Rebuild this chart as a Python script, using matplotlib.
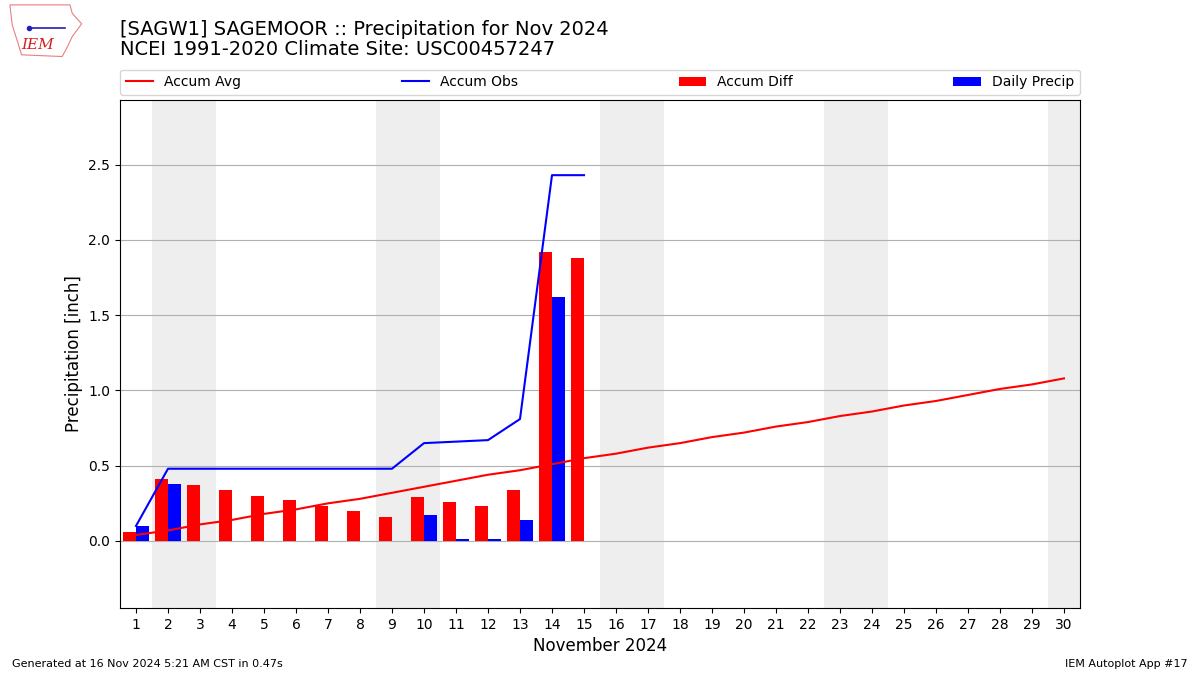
"""
Monthly precipitation plot for SAGW1 (Nov 2024)
"""

import numpy as np
import matplotlib
matplotlib.use('Agg')
import matplotlib.pyplot as plt
from matplotlib.patches import Polygon

days = np.arange(1, 31)
obs_days = np.arange(1, 16)

daily_precip = [0.10, 0.38, 0.0, 0.0, 0.0, 0.0, 0.0, 0.0, 0.0, 0.17, 0.01, 0.01, 0.14, 1.62, 0.0]
accum_obs = [0.10, 0.48, 0.48, 0.48, 0.48, 0.48, 0.48, 0.48, 0.48, 0.65, 0.66, 0.67, 0.81, 2.43, 2.43]
accum_avg = [0.04, 0.07, 0.11, 0.14, 0.18, 0.21, 0.25, 0.28, 0.32, 0.36, 0.40, 0.44, 0.47, 0.51, 0.55,
             0.58, 0.62, 0.65, 0.69, 0.72, 0.76, 0.79, 0.83, 0.86, 0.90, 0.93, 0.97, 1.01, 1.04, 1.08]
accum_diff = [0.06, 0.41, 0.37, 0.34, 0.30, 0.27, 0.23, 0.20, 0.16, 0.29, 0.26, 0.23, 0.34, 1.92, 1.88]
weekends = [2, 3, 9, 10, 16, 17, 23, 24, 30]

fig = plt.figure(figsize=(12, 6.75), dpi=100)
ax = fig.add_axes([0.1, 0.0993, 0.8, 0.7527])

# weekend shading
for d in weekends:
    ax.axvspan(d - 0.5, d + 0.5, color='#EEEEEE', zorder=0, lw=0)

ax.plot(days, accum_avg, color='r', lw=1.5, label='Accum Avg', zorder=3)
ax.plot(obs_days, accum_obs, color='b', lw=1.5, label='Accum Obs', zorder=3)
ax.bar(obs_days - 0.4, accum_diff, width=0.4, align='edge', color='r', label='Accum Diff', zorder=2)
ax.bar(obs_days, daily_precip, width=0.4, align='edge', color='b', label='Daily Precip', zorder=2)

ax.set_xlim(0.5, 30.5)
ax.set_ylim(-0.445, 2.93)
ax.set_xticks(days)
ax.set_yticks(np.arange(0, 2.51, 0.5))
ax.grid(axis='y', zorder=1)
ax.set_axisbelow(True)
ax.set_xlabel('November 2024', fontsize=12)
ax.set_ylabel('Precipitation [inch]', fontsize=12)

ax.legend(bbox_to_anchor=(0, 1.01, 1, 0.06), loc='lower left', ncol=4,
          mode='expand', borderaxespad=0, fontsize=10)

fig.text(0.1, 0.957, '[SAGW1] SAGEMOOR :: Precipitation for Nov 2024', fontsize=14, va='center')
fig.text(0.1, 0.926, 'NCEI 1991-2020 Climate Site: USC00457247', fontsize=14, va='center')

fig.text(0.01, 0.012, 'Generated at 16 Nov 2024 5:21 AM CST in 0.47s', fontsize=8)
fig.text(0.99, 0.012, 'IEM Autoplot App #17', fontsize=8, ha='right')

# rough logo
lax = fig.add_axes([0.005, 0.912, 0.065, 0.085])
lax.set_xlim(0, 1)
lax.set_ylim(0, 1)
lax.axis('off')
outline = [(0.05, 0.95), (0.82, 0.95), (0.85, 0.8), (0.97, 0.62), (0.85, 0.4),
           (0.78, 0.2), (0.72, 0.05), (0.2, 0.08), (0.15, 0.3), (0.08, 0.6)]
lax.add_patch(Polygon(outline, closed=True, fill=False, ec='#e88080', lw=0.8))
lax.plot([0.3, 0.75], [0.55, 0.55], color='#2020c0', lw=1.2)
lax.plot([0.3], [0.55], 'o', color='#2020c0', ms=3)
lax.text(0.4, 0.25, 'IEM', color='#d02020', fontsize=11, style='italic',
         family='serif', ha='center', va='center')

fig.savefig('out.png', dpi=100)
